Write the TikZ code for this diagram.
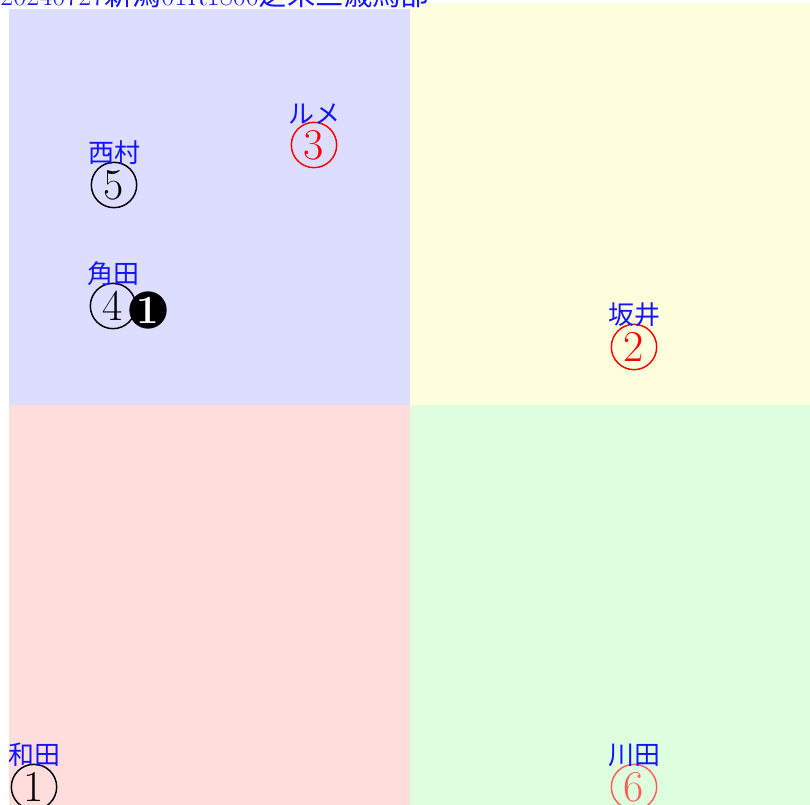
\documentclass[tikz,border=0pt]{standalone}
\usepackage{fontspec}
\newfontfamily\cjk{Noto Sans CJK JP}
\usepackage{tikz}
\usetikzlibrary{positioning}

\definecolor{quadblue}{RGB}{221,221,255}
\definecolor{quadyellow}{RGB}{255,255,221}
\definecolor{quadpink}{RGB}{255,221,221}
\definecolor{quadgreen}{RGB}{221,255,221}
\definecolor{lightred}{RGB}{255,95,95}
\definecolor{namecol}{RGB}{20,20,255}

\begin{document}
\begin{tikzpicture}[
    x = 0.75pt, y = -0.75pt,
    node distance = -2.5pt,
    % styles des marques
    horse/.style  = {circle, draw, line width=1.1pt, minimum size=34pt,
                     inner sep=0pt, font=\fontsize{33}{33}\selectfont},
    fav/.style    = {circle, fill=black, minimum size=28pt, inner sep=0pt,
                     text=white, font=\fontsize{30}{30}\selectfont\bfseries},
    jockey/.style = {inner sep=0pt, text=namecol, font=\cjk\fontsize{19.5}{19.5}\selectfont},
]
\useasboundingbox (0,0) rectangle (810,805);

% ── Quadrants ────────────────────────────────────────────────────────────────
\fill[quadblue]   (9,9)     rectangle (410,405);
\fill[quadyellow] (410,3)   rectangle (810,405);
\fill[quadpink]   (9,405)   rectangle (410,805);
\fill[quadgreen]  (410,405) rectangle (810,805);

% ── Titre ────────────────────────────────────────────────────────────────────
\node[anchor=base west, inner sep=0pt, text=namecol,
      font=\fontsize{21.3}{21.3}\selectfont] (title) at (0,6)
    {20240727{\cjk 新潟}01R1800{\cjk 芝未三歳馬部}};

% ── Chevaux ──────────────────────────────────────────────────────────────────
\node[horse] (h5) at (114,185) {5};
\node[jockey, above=of h5] (j5) {西村};

\node[horse, draw=red, text=red] (h3) at (314,145) {3};
\node[jockey, above=of h3] (j3) {ルメ};

\node[horse] (h4) at (113,306) {4};
\node[jockey, above=of h4] (j4) {角田};
\node[fav] (f1) at (148,310) {1};

\node[horse, draw=red, text=red] (h2) at (634,347) {2};
\node[jockey, above=of h2] (j2) {坂井};

\node[horse] (h1) at (34,787) {1};
\node[jockey, above=of h1] (j1) {和田};

\node[horse, draw=lightred, text=lightred] (h6) at (634,787) {6};
\node[jockey, above=of h6] (j6) {川田};

\end{tikzpicture}
\end{document}
